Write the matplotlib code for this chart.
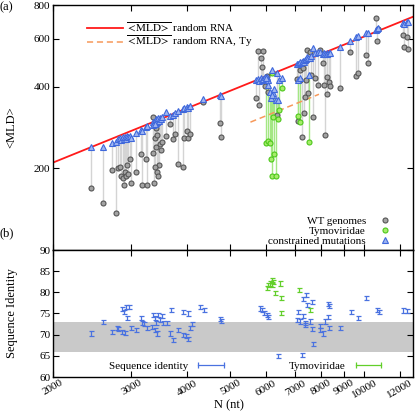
import matplotlib
matplotlib.use('Agg')
import matplotlib.pyplot as plt
from matplotlib.lines import Line2D
from matplotlib.ticker import FixedLocator, NullLocator, FixedFormatter, NullFormatter

plt.rcParams['font.family'] = ['Liberation Serif', 'DejaVu Serif']
plt.rcParams['mathtext.fontset'] = 'stix'

# ---------------- data ----------------
# WT genomes: length, WT <MLD>, constrained-mutation <MLD>
wt_n = [2435, 2590, 2714, 2771, 2800, 2828, 2843, 2873, 2888, 2903, 2918, 2933, 2948, 2978, 2994,
        3072, 3152, 3169, 3235, 3252, 3354, 3371, 3389, 3406, 3406, 3424, 3424, 3442, 3459, 3477,
        3495, 3513, 3354, 3389, 3587, 3661, 3718, 3757, 3816, 3917, 3937, 3999, 4020, 4060, 4342,
        4741, 4766, 5710, 5770, 5800, 5859, 5890, 5920, 5982, 6044, 6076, 6366, 7057, 7094, 7168,
        7168, 7242, 7280, 7318, 7356, 7394, 7432, 7470, 7548, 7587, 7666, 7746, 7867, 7948, 8072,
        8114, 8156, 8240, 8240, 8326, 8370, 8813, 9281, 9573, 9672, 10080, 10180, 10615, 10670,
        10725, 12203, 12267, 12458, 12523]
wt_mld = [169, 149, 198, 137, 200, 203, 188, 185, 174, 194, 187, 205, 190, 217, 177,
          194, 225, 173, 217, 174, 309, 176, 258, 239, 281, 194, 265, 188, 205, 245,
          233, 250, 227, 202, 263, 291, 256, 267, 207, 203, 258, 274, 258, 267, 352,
          293, 260, 363, 541, 342, 510, 472, 541, 402, 437, 382, 314, 426, 298, 423,
          460, 260, 468, 320, 366, 423, 546, 378, 537, 441, 309, 430, 405, 546, 489,
          405, 265, 434, 375, 416, 402, 395, 537, 437, 448, 523, 489, 716, 589,
          652, 620, 559, 609, 550]
con_mld = [239, 239, 248, 250, 256, 258, 254, 260, 256, 260, 256, 263, 260, 263, 258,
           269, 276, 274, 283, 286, 296, 291, 298, 293, 304, 296, 301, 306, 298, 306,
           304, 309, 288, 291, 323, 311, 314, 320, 325, 331, 334, 336, 334, 339, 360,
           372, 369, 423, 426, 419, 430, 423, 426, 434, 434, 423, 448, 485, 485, 489,
           494, 494, 498, 494, 502, 506, 514, 510, 510, 519, 555, 532, 537, 537, 528,
           532, 528, 532, 528, 532, 532, 559, 589, 609, 615, 631, 631, 647, 652,
           658, 686, 680, 692, 692]

# Tymoviridae
ty_n = [6013, 6076, 6139, 6171, 6203, 6235, 6203, 6268, 6333, 6399, 6432, 6532, 7094, 7168, 7509]
ty_mld = [248, 252, 248, 217, 451, 309, 188, 225, 187, 304, 328, 395, 311, 296, 250]
ty_con = [430, 405, 382, 363, 460, 378, 372, 391, 357, 357, 423, 430, 423, 430, 441]

# random RNA fits
fit_n = [2000, 12860]
fit_mld = [210, 724]
ty_fit_n = [5550, 7910]
ty_fit_mld = [296, 375]

# sequence identity
si_n = [2435, 2590, 2714, 2785, 2800, 2858, 2903, 2858, 2888, 2918, 2963, 2933, 2994, 3072, 3152,
        3169, 3202, 3252, 3336, 3354, 3389, 3406, 3389, 3424, 3442, 3477, 3513, 3532, 3606, 3661,
        3718, 3680, 3816, 3917, 3917, 3978, 4020, 4020, 4060, 4102, 4275, 4365, 4741, 4766, 5829,
        5890, 5951, 6044, 6076, 7394, 7280, 7627, 7432, 7094, 7280, 7057, 7168, 7356, 7548, 7356,
        7627, 7948, 8156, 8283, 8326, 8283, 7948, 8072, 8326, 8813, 7666, 6399, 7242, 9329, 9672,
        10080, 10670, 10781, 12203, 12458]
si_val = [70.3, 73.0, 70.7, 71.5, 71.3, 70.7, 70.4, 76.0, 75.4, 76.6, 76.5, 73.9, 71.5, 71.1, 73.9,
          72.8, 72.5, 71.5, 71.9, 74.6, 73.9, 72.7, 71.1, 70.3, 74.6, 73.5, 74.4, 72.7, 72.7, 70.3,
          68.7, 75.8, 71.1, 75.4, 69.9, 69.7, 75.0, 68.9, 71.5, 72.5, 76.5, 75.8, 73.7, 73.3, 76.2,
          75.8, 75.2, 74.6, 74.2, 79.4, 78.4, 77.8, 77.0, 75.4, 74.4, 73.5, 73.1, 72.7, 73.1, 72.3,
          71.3, 72.0, 73.1, 77.2, 76.8, 74.2, 71.1, 70.3, 71.5, 71.5, 67.8, 65.0, 65.2, 75.4, 74.0,
          78.6, 75.8, 75.3, 75.7, 75.6]
si_err = 0.5
ty_si_n = [6203, 6139, 6203, 6235, 6076, 6044, 6464, 6300, 6498, 7131, 6498, 7548]
ty_si_val = [82.9, 82.1, 81.7, 82.4, 81.7, 81.0, 82.1, 79.9, 78.6, 80.6, 75.2, 75.8]
ty_si_err = 0.5
band = (66, 73)

xticks = [2000, 3000, 4000, 5000, 6000, 7000, 8000, 9000, 10000, 12000]
xticklabels = ['2000', '3000', '4000', '5000', '6000', '7000', '8000', '9000', '10000', '12000']
yticks_top = [200, 400, 600, 800]
yticks_bot = [60, 65, 70, 75, 80, 85, 90]

# ---------------- style ----------------
C_GRAY_FC, C_GRAY_EC = '#a3a3a3', '#555555'
C_GREEN_FC, C_GREEN_EC = '#a6ec6a', '#4cc81a'
C_BLUE_FC, C_BLUE_EC = '#9fb6f2', '#3f68dc'
C_SI_BLUE = '#4a72e0'
C_SI_GREEN = '#62cf2a'

fig = plt.figure(figsize=(4.15, 4.11), dpi=100)
ax1 = fig.add_axes([53/415, 1-250/411, 360/415, 245/411])
ax2 = fig.add_axes([53/415, 1-377/411, 360/415, 127/411], sharex=ax1)

# ---- top panel ----
ax1.vlines(wt_n, wt_mld, con_mld, color='#d4d4d4', lw=1.0, zorder=1)
ax1.vlines(ty_n, ty_mld, ty_con, color='#a4e784', lw=1.0, zorder=1)
ax1.plot(fit_n, fit_mld, color='#ff1a1a', lw=1.3, zorder=2)
ax1.plot(ty_fit_n, ty_fit_mld, color='#f7995a', lw=1.1, ls=(0, (4, 2.5)), zorder=2)
ax1.plot(wt_n, wt_mld, 'o', ms=3.6, mfc=C_GRAY_FC, mec=C_GRAY_EC, mew=0.8, ls='none', zorder=3)
ax1.plot(ty_n, ty_mld, 'o', ms=3.6, mfc=C_GREEN_FC, mec=C_GREEN_EC, mew=0.8, ls='none', zorder=3)
ax1.plot(wt_n, con_mld, '^', ms=5.0, mfc=C_BLUE_FC, mec=C_BLUE_EC, mew=0.8, ls='none', zorder=4)
ax1.plot(ty_n, ty_con, '^', ms=5.0, mfc=C_BLUE_FC, mec=C_BLUE_EC, mew=0.8, ls='none', zorder=4)

ax1.set_xscale('log')
ax1.set_yscale('log')
ax1.set_xlim(2000, 12860)
ax1.set_ylim(100, 800)
ax1.yaxis.set_major_locator(FixedLocator(yticks_top))
ax1.yaxis.set_major_formatter(FixedFormatter([str(v) for v in yticks_top]))
ax1.yaxis.set_minor_locator(NullLocator())
ax1.xaxis.set_major_locator(FixedLocator(xticks))
ax1.xaxis.set_minor_locator(NullLocator())
ax1.tick_params(axis='x', labelbottom=False)
ax1.set_ylabel('<MLD>', fontsize=9)
ax1.yaxis.set_label_coords(-0.098, 0.5)

leg1 = ax1.legend(handles=[
    Line2D([], [], color='#ff1a1a', lw=1.3),
    Line2D([], [], color='#f7995a', lw=1.1, ls=(0, (4, 2.5)))],
    labels=[r'$\overline{<\!\mathrm{MLD}\!>}$ random RNA', r'$\overline{<\!\mathrm{MLD}\!>}$ random RNA, Ty'],
    loc='upper left', bbox_to_anchor=(0.082, 0.955), frameon=False, fontsize=8,
    handlelength=3.2, handletextpad=0.3, labelspacing=0.0, borderaxespad=0)
ax1.add_artist(leg1)

ax1.legend(handles=[
    Line2D([], [], marker='o', ms=3.6, mfc=C_GRAY_FC, mec=C_GRAY_EC, mew=0.8, ls='none'),
    Line2D([], [], marker='o', ms=3.6, mfc=C_GREEN_FC, mec=C_GREEN_EC, mew=0.8, ls='none'),
    Line2D([], [], marker='^', ms=5.0, mfc=C_BLUE_FC, mec=C_BLUE_EC, mew=0.8, ls='none')],
    labels=['WT genomes', 'Tymoviridae', 'constrained mutations'],
    loc='lower right', bbox_to_anchor=(0.965, 0.0), frameon=False, fontsize=8,
    markerfirst=False, numpoints=1, handlelength=2.0, handletextpad=0.7,
    labelspacing=0.0, borderaxespad=0)

# ---- bottom panel ----
ax2.axhspan(band[0], band[1], color='#c9c9c9', lw=0, zorder=0)
ax2.errorbar(si_n, si_val, yerr=si_err, fmt='none', ecolor=C_SI_BLUE, elinewidth=0.9,
             capsize=1.8, capthick=0.9, zorder=3)
ax2.errorbar(ty_si_n, ty_si_val, yerr=ty_si_err, fmt='none', ecolor=C_SI_GREEN, elinewidth=0.9,
             capsize=1.8, capthick=0.9, zorder=3)
ax2.set_ylim(60, 90)
ax2.yaxis.set_major_locator(FixedLocator(yticks_bot))
ax2.yaxis.set_major_formatter(FixedFormatter([str(v) for v in yticks_bot]))
ax2.xaxis.set_major_locator(FixedLocator(xticks))
ax2.xaxis.set_major_formatter(FixedFormatter(xticklabels))
ax2.xaxis.set_minor_locator(NullLocator())
ax2.xaxis.set_minor_formatter(NullFormatter())
ax2.set_ylabel('Sequence Identity', fontsize=9)
ax2.yaxis.set_label_coords(-0.098, 0.5)
ax2.set_xlabel('N (nt)', fontsize=9)
ax2.xaxis.set_label_coords(0.49, -0.175)
for lab in ax2.get_xticklabels():
    lab.set_rotation(30)
    lab.set_ha('center')

ax2.legend(handles=[
    Line2D([], [], color=C_SI_BLUE, lw=0.9, marker='|', ms=4, mew=0.9),
    Line2D([], [], color=C_SI_GREEN, lw=0.9, marker='|', ms=4, mew=0.9)],
    labels=['Sequence identity', 'Tymoviridae'], ncol=2,
    loc='center right', bbox_to_anchor=(0.934, 0.087), frameon=False, fontsize=8,
    markerfirst=False, numpoints=2, handlelength=2.9, handletextpad=0.6,
    columnspacing=5.6, borderaxespad=0)

for ax in (ax1, ax2):
    ax.tick_params(direction='in', top=True, right=True, length=4, width=0.8,
                   labelsize=8, pad=2)
    ax.tick_params(which='minor', length=0)
    for sp in ax.spines.values():
        sp.set_linewidth(1.0)
ax2.tick_params(axis='x', pad=1)

fig.text(0.0, 1-7/411, '(a)', fontsize=9, va='center', ha='left')
fig.text(0.0, 1-233/411, '(b)', fontsize=9, va='center', ha='left')

fig.savefig('out.png', dpi=100)
